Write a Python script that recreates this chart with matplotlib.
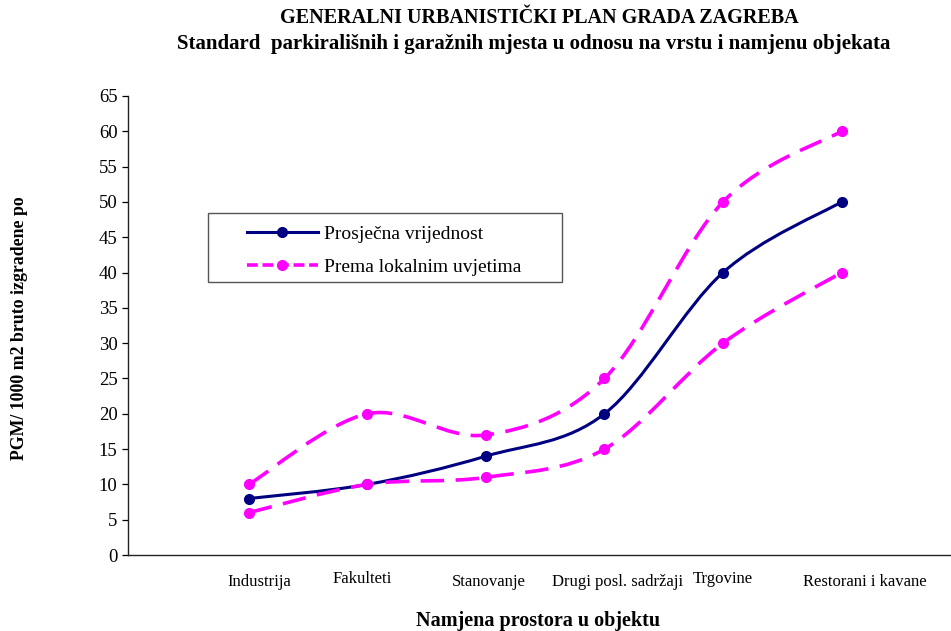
import numpy as np
import matplotlib
matplotlib.use("Agg")
import matplotlib.pyplot as plt
from matplotlib.path import Path
from matplotlib.patches import PathPatch, Rectangle
from matplotlib.lines import Line2D
from matplotlib.transforms import ScaledTranslation

plt.rcParams.update({"font.family": "Liberation Serif", "font.size": 12})

categories = ["Industrija", "Fakulteti", "Stanovanje", "Drugi posl. sadržaji",
              "Trgovine", "Restorani i kavane"]
prosjecna = [8, 10, 14, 20, 40, 50]
lokalno_gore = [10, 20, 17, 25, 50, 60]
lokalno_dolje = [6, 10, 11, 15, 30, 40]

NAVY = "#000080"
MAGENTA = "#FF00FF"
DASH = (0, (6.5, 3.2))


def smooth_path(xs, ys, tension=1 / 6):
    """Cubic Bezier through the points, same style as spreadsheet 'smoothed line'."""
    pts = np.column_stack([xs, ys]).astype(float)
    n = len(pts)
    verts = [pts[0]]
    codes = [Path.MOVETO]
    for i in range(n - 1):
        p_prev = pts[i - 1] if i > 0 else pts[i]
        p_next = pts[i + 2] if i + 2 < n else pts[i + 1]
        c1 = pts[i] + (pts[i + 1] - p_prev) * tension
        c2 = pts[i + 1] - (p_next - pts[i]) * tension
        verts += [c1, c2, pts[i + 1]]
        codes += [Path.CURVE4] * 3
    return Path(verts, codes)


fig = plt.figure(figsize=(9.51, 6.31), dpi=100)
ax = fig.add_axes([128 / 951, 1 - 555 / 631, 823 / 951, 459 / 631])

x = np.arange(len(categories))
series = [(prosjecna, NAVY, "-", 2.2),
          (lokalno_gore, MAGENTA, DASH, 2.6),
          (lokalno_dolje, MAGENTA, DASH, 2.6)]
for ys, col, ls, lw in series:
    ax.add_patch(PathPatch(smooth_path(x, ys), fill=False, edgecolor=col,
                           lw=lw, linestyle=ls, capstyle="butt", zorder=2))
    ax.plot(x, ys, "o", color=col, ms=7, zorder=3)

ax.set_xlim(-1.021, 5.924)
ax.set_ylim(0, 65)
ax.set_yticks(range(0, 66, 5))
ax.tick_params(axis="y", direction="out", length=4.5, width=0.9, labelsize=13.5, pad=3)
ax.set_xticks(x)
ax.set_xticklabels(categories, fontsize=12)
ax.tick_params(axis="x", length=0, pad=14)
# staggered category labels
offsets = [(10, 0), (-5, 3), (3, 0), (13, 0), (0, 3), (23, 0)]
for lab, (dx, dy) in zip(ax.get_xticklabels(), offsets):
    lab.set_transform(lab.get_transform() +
                      ScaledTranslation(dx / 100, dy / 100, fig.dpi_scale_trans))

for s in ("top", "right"):
    ax.spines[s].set_visible(False)
for s in ("left", "bottom"):
    ax.spines[s].set_linewidth(1.0)
    ax.spines[s].set_color("#222222")

fig.text(539 / 951, 1 - 18 / 631, "GENERALNI URBANISTIČKI PLAN GRADA ZAGREBA",
         ha="center", va="center", fontsize=14.5, fontweight="bold")
fig.text(534 / 951, 1 - 44 / 631,
         "Standard  parkirališnih i garažnih mjesta u odnosu na vrstu i namjenu objekata",
         ha="center", va="center", fontsize=15, fontweight="bold")
fig.text(20 / 951, 1 - 328 / 631, "PGM/ 1000 m2 bruto izgradene po", rotation=90,
         ha="center", va="center", fontsize=12.8, fontweight="bold")
fig.text(538 / 951, 1 - 621 / 631, "Namjena prostora u objektu",
         ha="center", va="center", fontsize=14.5, fontweight="bold")

# legend box
fig.add_artist(Rectangle((208 / 951, 1 - 282 / 631), 354 / 951, 69 / 631,
                         transform=fig.transFigure, fill=False,
                         edgecolor="#555555", lw=1.0))
handles = [Line2D([], [], color=NAVY, lw=2.2, marker="o", ms=7),
           Line2D([], [], color=MAGENTA, lw=2.6, ls=(0, (3, 1.3)), marker="o", ms=7)]
fig.legend(handles, ["Prosječna vrijednost", "Prema lokalnim uvjetima"],
           loc="upper left", bbox_to_anchor=(247 / 951, 1 - 225 / 631),
           borderaxespad=0, borderpad=0, frameon=False, fontsize=14,
           handlelength=3.65, handletextpad=0.3, labelspacing=0.8)

fig.savefig("out.png", dpi=100)
